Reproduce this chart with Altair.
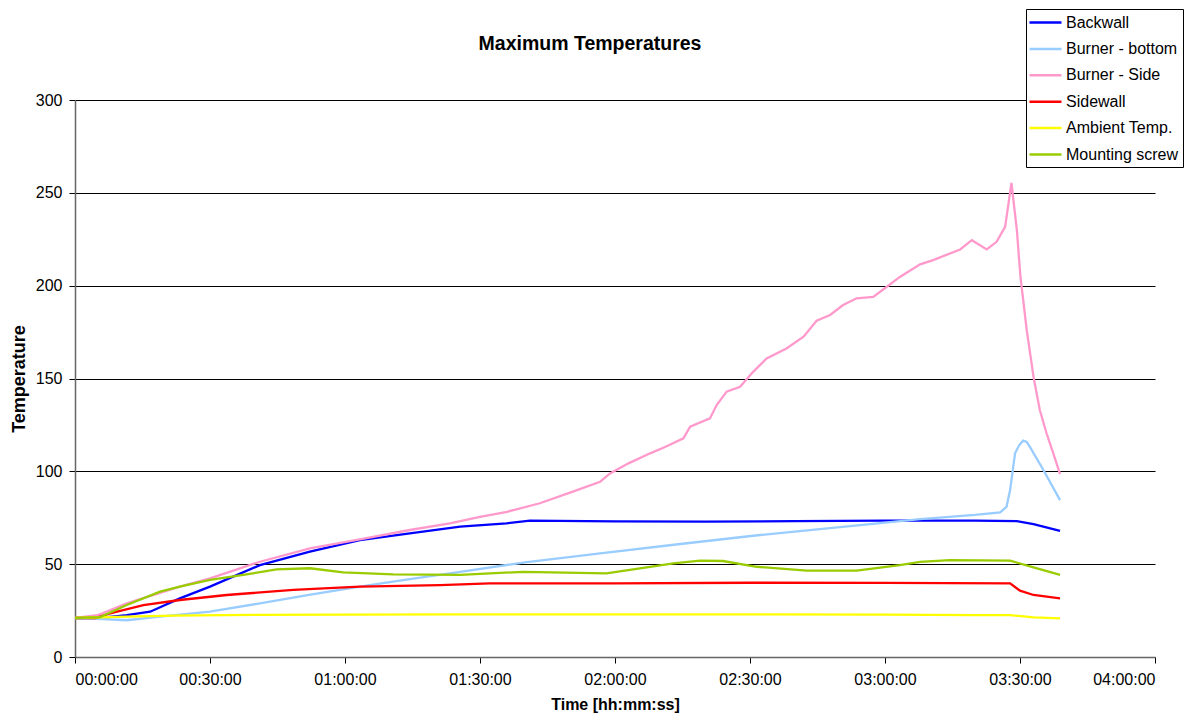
import altair as alt
import pandas as pd

# ---- data (time in minutes, temperature) ----
series_names = ["Backwall", "Burner - bottom", "Burner - Side", "Sidewall",
                "Ambient Temp.", "Mounting screw"]
series_colors = ["#0000FF", "#99CCFF", "#FF99CC", "#FF0000", "#FFFF00", "#99CC00"]

backwall_t = [0, 5.6, 11.5, 16.7, 23.3, 30, 41.1, 52.2, 63.3, 74.4, 85.6, 95.9,
              101.1, 120, 140, 160, 180, 200, 209.3, 213, 218.9]
backwall_v = [21, 21, 22.6, 24.4, 31.6, 37.9, 49.5, 56.7, 63, 66.6, 70.2, 72,
              73.4, 73, 72.9, 73.2, 73.4, 73.4, 73.2, 71.6, 67.9]

bottom_t = [0, 5, 11.5, 18.9, 30, 41.1, 52, 63.3, 74.4, 85.6, 100, 116.7, 135,
            152.2, 170, 187.8, 200, 205.6, 207, 207.8, 208.9, 209.8, 210.7,
            211.5, 212.2, 215.2, 218.9]
bottom_v = [21, 20.5, 19.8, 21.7, 24.4, 28.9, 33.5, 37.9, 42, 45.9, 51, 55.8, 61,
            65.7, 70, 74.3, 76.5, 77.9, 80.9, 89.9, 109.7, 114, 116.5,
            115.8, 113.2, 100.7, 84.5]

side_t = [0, 5, 11.5, 18.9, 23.3, 30, 41.1, 52.2, 63.3, 74.4, 83.3, 90, 96,
          103.3, 110, 116.7, 118.9, 123, 127.8, 131, 135.2, 136.7, 141.1, 142.6,
          144.8, 147.8, 150.7, 153.7, 158.1, 161.9, 164.8, 167.8, 170.7, 173.7,
          177.4, 180.4, 183.3, 187.8, 190.7, 196.7, 199.3, 202.6, 204.8, 206.7,
          208.1, 209.3, 210.1, 211.5, 213, 214.4, 215.9, 217.4, 218.9]
side_v = [21, 22.5, 28.9, 34.5, 37.9, 42.4, 51.3, 58.5, 63.4, 68.4, 72, 75.5, 78.2,
          82.8, 88.5, 94.4, 98.9, 104.3, 109.7, 113, 117.8, 124, 128.5, 135.7,
          142.9, 145.5, 153.6, 160.8, 166.2, 172.5, 181.1, 184.2, 189.6, 193.2,
          194, 199.4, 204.7, 211.5, 213.8, 219.5, 224.5, 219.5, 223.6, 231.7,
          255.4, 230, 204.8, 176, 151, 133, 120.5, 109.7, 98.5]

sidewall_t = [0, 4.5, 7.8, 15.2, 23.3, 33.7, 48.5, 63.3, 81.1, 92.2, 120, 150,
              180, 207.8, 210, 213, 218.9]
sidewall_v = [21, 21, 23.5, 28, 30.7, 33.4, 36.1, 37.9, 38.7, 39.7, 39.7, 40,
              39.9, 39.7, 35.7, 33.4, 31.6]

ambient_t = [0, 11.5, 22, 33, 60, 85.6, 120, 150, 180, 200, 207.8, 213, 218.9]
ambient_v = [21, 21.7, 22.3, 22.6, 22.8, 23, 23, 23, 22.8, 22.6, 22.6, 21.3, 20.8]

screw_t = [0, 5.6, 11.5, 18.9, 23.3, 30, 37.4, 44.8, 52.2, 59.6, 70.7, 85.6,
           99.6, 118.1, 133, 138.9, 144, 151.5, 162.6, 173.7, 183.3, 187.8, 194.4,
           207.8, 213, 218.9]
screw_v = [21, 21.5, 28, 35.2, 37.9, 41.5, 44.2, 47.2, 47.8, 45.6, 44.5, 44.2,
           45.9, 45, 50.4, 51.9, 51.7, 48.6, 46.5, 46.5, 49.5, 51.2, 52.2,
           51.9, 48.3, 44.2]

x_ticks = [0, 30, 60, 90, 120, 150, 180, 210, 240]
y_ticks = [0, 50, 100, 150, 200, 250, 300]

all_t = [backwall_t, bottom_t, side_t, sidewall_t, ambient_t, screw_t]
all_v = [backwall_v, bottom_v, side_v, sidewall_v, ambient_v, screw_v]

rows = []
for si, (name, ts, vs) in enumerate(zip(series_names, all_t, all_v)):
    for i, (t, v) in enumerate(zip(ts, vs)):
        rows.append({"series": name, "sidx": si, "i": i, "t": t, "v": v})
df = pd.DataFrame(rows)

FONT = "Liberation Sans"

label_expr = ("pad(toString(floor(datum.value/60)), 2, '0', 'left') + ':' + "
              "pad(toString(datum.value % 60), 2, '0', 'left') + ':00'")

chart = alt.Chart(df).mark_line(strokeWidth=2.3).encode(
    x=alt.X("t:Q",
            scale=alt.Scale(domain=[0, 240], nice=False, zero=False),
            axis=alt.Axis(values=x_ticks, labelExpr=label_expr,
                          title="Time [hh:mm:ss]", grid=False,
                          titleY=52, titleBaseline="alphabetic",
                          titleFontSize=16, labelPadding=8)),
    y=alt.Y("v:Q",
            scale=alt.Scale(domain=[0, 300], nice=False),
            axis=alt.Axis(values=y_ticks, title="Temperature", grid=True,
                          gridColor="#000000", gridWidth=1,
                          titleX=-56, titleBaseline="middle", titleAngle=-90,
                          titleFontSize=18, labelPadding=7)),
    color=alt.Color("series:N",
                    scale=alt.Scale(domain=series_names, range=series_colors),
                    legend=alt.Legend(title=None, orient="none",
                                      legendX=951, legendY=-91)),
    order=alt.Order("i:Q"),
).properties(
    width=1080,
    height=557,
    title=alt.TitleParams("Maximum Temperatures", fontSize=19.5, font=FONT,
                          fontWeight="bold", anchor="middle", dx=-25,
                          offset=0, dy=61, baseline="alphabetic",
                          color="#000000"),
    autosize=alt.AutoSizeParams(type="none"),
    padding={"left": 67, "top": 92, "right": 30, "bottom": 57},
).configure_view(
    stroke=None
).configure_axis(
    labelFont=FONT, labelFontSize=16, labelColor="#000000",
    titleFont=FONT, titleFontWeight="bold", titleColor="#000000",
    domainColor="#666666", domainWidth=1.5,
    tickColor="#000000", tickSize=6, tickWidth=1,
).configure_legend(
    labelFont=FONT, labelFontSize=16, labelColor="#000000",
    symbolType="M-2,0H2", symbolSize=256, symbolStrokeWidth=2.5,
    symbolFillColor="transparent", symbolOffset=6,
    labelOffset=11, rowPadding=8.4, padding=4,
    strokeColor="#000000", fillColor="#FFFFFF", strokeWidth=1,
    labelLimit=300, cornerRadius=0,
)

chart.save("out.html", embed_options={"renderer": "svg", "actions": False})
